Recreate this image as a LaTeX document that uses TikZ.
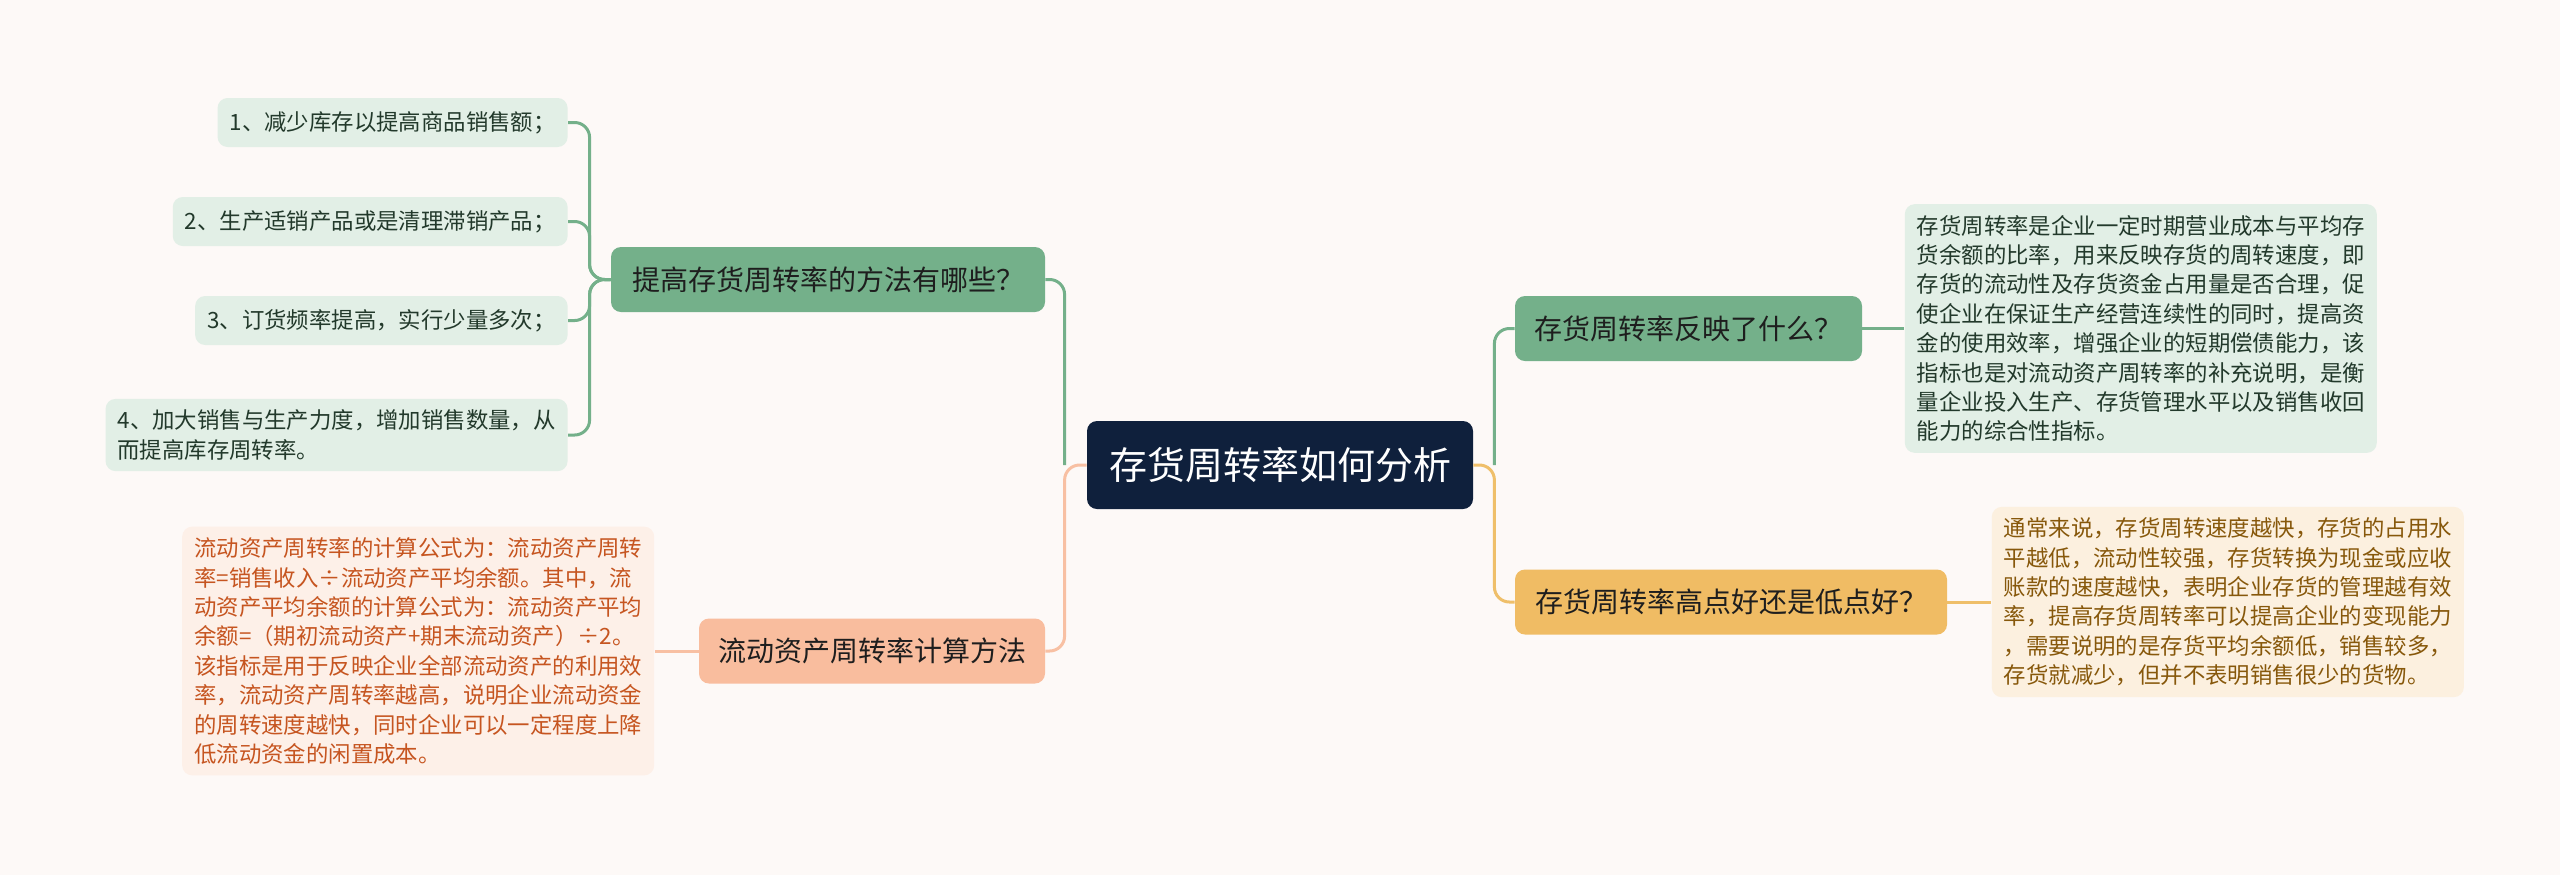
\documentclass[tikz,border=0pt]{standalone}
\usepackage{fontspec}
\setmainfont{Noto Sans CJK SC}
\usetikzlibrary{positioning}

\definecolor{paperbg}{HTML}{FDF9F7}
\definecolor{rootnavy}{HTML}{0F203C}
\definecolor{mossgreen}{HTML}{74B08A}
\definecolor{mosspale}{HTML}{E2EFE6}
\definecolor{mossink}{HTML}{22392B}
\definecolor{peachline}{HTML}{F8C0A3}
\definecolor{peachfill}{HTML}{F9BD9E}
\definecolor{peachpale}{HTML}{FDF0E8}
\definecolor{peachink}{HTML}{C65520}
\definecolor{honeyline}{HTML}{EFBF6A}
\definecolor{honeyfill}{HTML}{F0BC64}
\definecolor{honeypale}{HTML}{FCF0DF}
\definecolor{honeyink}{HTML}{87580B}
\definecolor{branchink}{HTML}{1E1E1E}

\begin{document}
\begin{tikzpicture}[x=0.5pt,y=-0.5pt,
  rootbox/.style={fill=rootnavy,text=white,rounded corners=5pt,inner sep=0pt,
    minimum width=193pt,minimum height=44pt,font=\fontsize{19}{23}\selectfont},
  branchbox/.style={rounded corners=5pt,inner sep=0pt,minimum height=32.5pt,
    text=branchink,font=\fontsize{14}{17}\selectfont},
  leafbox/.style={rounded corners=5pt,inner xsep=6pt,inner ysep=5.5pt,align=left,
    font=\fontsize{11.2}{14.7}\selectfont},
  greenleaf/.style={leafbox,fill=mosspale,text=mossink},
  tipleaf/.style={greenleaf,anchor=east,minimum height=24.5pt},
  link/.style={line width=1.5pt,rounded corners=7.5pt}]

\useasboundingbox[fill=paperbg] (0,0) rectangle (2560,875);

% centre
\node[rootbox] (root) at (1280,465) {存货周转率如何分析};

% branches
\node[branchbox,fill=mossgreen,minimum width=217pt] (ways) at (828,279.5) {提高存货周转率的方法有哪些？};
\node[branchbox,fill=peachfill,minimum width=173pt] (calc) at (872,651) {流动资产周转率计算方法};
\node[branchbox,fill=mossgreen,minimum width=173.5pt] (meaning) at (1688.5,328.5) {存货周转率反映了什么？};
\node[branchbox,fill=honeyfill,minimum width=216pt] (highlow) at (1731,602) {存货周转率高点好还是低点好？};

% left tips
\node[tipleaf] (tip1) at (568,122.5) {1、减少库存以提高商品销售额；};
\node[tipleaf] (tip2) at (568,221.5) {2、生产适销产品或是清理滞销产品；};
\node[tipleaf] (tip3) at (568,320.5) {3、订货频率提高，实行少量多次；};
\node[tipleaf] (tip4) at (568,435) {4、加大销售与生产力度，增加销售数量，从\\而提高库存周转率。};

% long texts
\node[leafbox,fill=peachpale,text=peachink,left=22pt of calc] (calctext) {流动资产周转率的计算公式为：流动资产周转\\
率=销售收入÷流动资产平均余额。其中，流\\
动资产平均余额的计算公式为：流动资产平均\\
余额=（期初流动资产+期末流动资产）÷2。\\
该指标是用于反映企业全部流动资产的利用效\\
率，流动资产周转率越高，说明企业流动资金\\
的周转速度越快，同时企业可以一定程度上降\\
低流动资金的闲置成本。};
\node[greenleaf,right=21pt of meaning] (meaningtext) {存货周转率是企业一定时期营业成本与平均存\\
货余额的比率，用来反映存货的周转速度，即\\
存货的流动性及存货资金占用量是否合理，促\\
使企业在保证生产经营连续性的同时，提高资\\
金的使用效率，增强企业的短期偿债能力，该\\
指标也是对流动资产周转率的补充说明，是衡\\
量企业投入生产、存货管理水平以及销售收回\\
能力的综合性指标。};
\node[leafbox,fill=honeypale,text=honeyink,right=22pt of highlow] (highlowtext) {通常来说，存货周转速度越快，存货的占用水\\
平越低，流动性较强，存货转换为现金或应收\\
账款的速度越快，表明企业存货的管理越有效\\
率，提高存货周转率可以提高企业的变现能力\\
，需要说明的是存货平均余额低，销售较多，\\
存货就减少，但并不表明销售很少的货物。};

% connectors
\draw[link,peachline] (root.west) -- ++(-22,0) |- (calc.east);
\draw[link,mossgreen] (root.west) ++(-22,0) |- (ways.east);
\draw[link,honeyline] (root.east) -- ++(21,0) |- (highlow.west);
\draw[link,mossgreen] (root.east) ++(21,0) |- (meaning.west);
\foreach \t in {tip1,tip2,tip3,tip4}
  \draw[link,mossgreen] (ways.west) -- ++(-21,0) |- (\t.east);
\draw[link,peachline] (calc.west) -- (calctext.east);
\draw[link,mossgreen] (meaning.east) -- (meaningtext.west);
\draw[link,honeyline] (highlow.east) -- (highlowtext.west);

\end{tikzpicture}
\end{document}
